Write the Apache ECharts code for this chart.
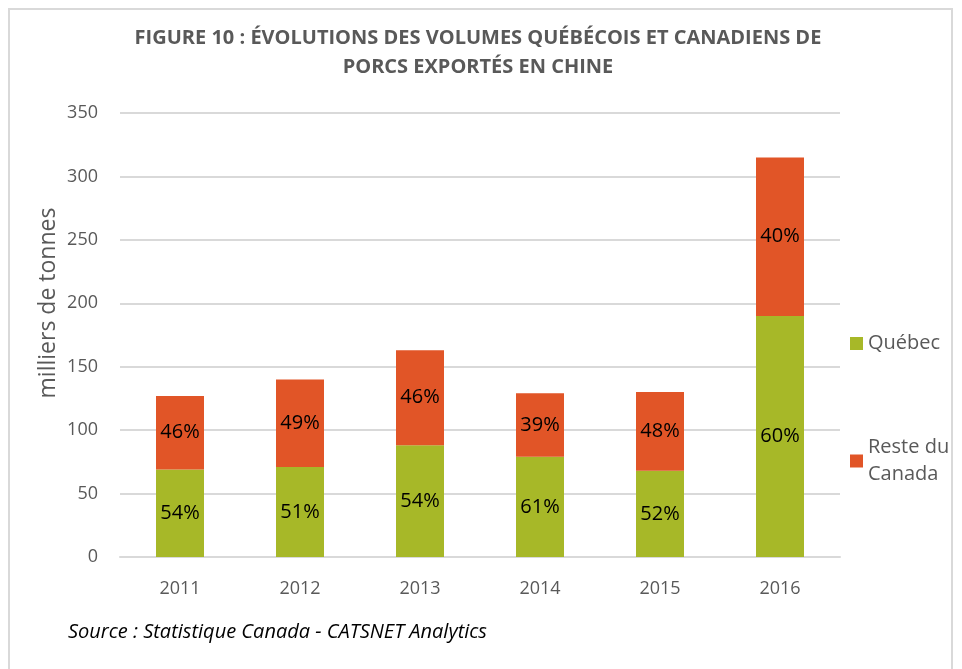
<!DOCTYPE html>
<html>
<head>
<meta charset="utf-8">
<script src="https://cdn.jsdelivr.net/npm/echarts@6/dist/echarts.min.js"></script>
<style>
  html, body { margin: 0; padding: 0; background: #fff; }
  #frame {
    position: absolute; left: 8px; top: 8px; width: 945px; height: 680px;
    border: 2px solid #d9d9d9; box-sizing: border-box;
  }
  #porcs-chart { width: 962px; height: 669px; position: absolute; left: 0; top: 0; }
</style>
</head>
<body>
<div id="frame"></div>
<div id="porcs-chart"></div>
<script>
// données (milliers de tonnes)
const annees = ['2011', '2012', '2013', '2014', '2015', '2016']
const quebec = [69, 71, 88, 79, 68, 190]
const resteCanada = [58, 69, 75, 50, 62, 125]
const pctQuebec = ['54%', '51%', '54%', '61%', '52%', '60%']
const pctReste = ['46%', '49%', '46%', '39%', '48%', '40%']
const yTicks = [0, 50, 100, 150, 200, 250, 300, 350]

const myChart = echarts.init(document.getElementById('porcs-chart'))
const font = '"Open Sans", "Noto Sans", sans-serif'

const option = {
  color: ['#A7B828', '#E15527'],
  title: {
    text: 'FIGURE 10 : ÉVOLUTIONS DES VOLUMES QUÉBÉCOIS ET CANADIENS DE\nPORCS EXPORTÉS EN CHINE',
    left: 473,
    top: 19,
    textAlign: 'center',
    textStyle: {
      fontFamily: font,
      fontWeight: 'bold',
      fontSize: 20,
      lineHeight: 29,
      color: '#595959'
    }
  },
  legend: {
    orient: 'vertical',
    left: 845,
    top: 325,
    itemWidth: 13,
    itemHeight: 13,
    itemGap: 77,
    icon: 'rect',
    data: ['Québec', 'Reste du Canada'],
    formatter: function (name) {
      return name === 'Reste du Canada' ? 'Reste du\nCanada' : name
    },
    textStyle: { fontFamily: font, fontSize: 20, color: '#595959', lineHeight: 27 }
  },
  grid: { left: 120, right: 122, top: 113, bottom: 112 },
  xAxis: {
    type: 'category',
    data: annees,
    axisLine: { lineStyle: { color: '#d9d9d9', width: 2 } },
    axisTick: { show: false },
    axisLabel: { fontFamily: font, fontSize: 18, color: '#595959', margin: 23 }
  },
  yAxis: {
    type: 'value',
    min: yTicks[0],
    max: yTicks[yTicks.length - 1],
    interval: 50,
    axisLabel: { fontFamily: font, fontSize: 18, color: '#595959', margin: 22 },
    splitLine: { lineStyle: { color: '#d9d9d9', width: 2 } }
  },
  series: [
    {
      name: 'Québec',
      type: 'bar',
      stack: 'total',
      barWidth: 48,
      data: quebec,
      label: {
        show: true,
        position: 'inside',
        fontFamily: font,
        fontSize: 20,
        color: '#000',
        formatter: p => pctQuebec[p.dataIndex]
      }
    },
    {
      name: 'Reste du Canada',
      type: 'bar',
      stack: 'total',
      barWidth: 48,
      data: resteCanada,
      label: {
        show: true,
        position: 'inside',
        fontFamily: font,
        fontSize: 20,
        color: '#000',
        formatter: p => pctReste[p.dataIndex]
      }
    }
  ],
  graphic: [
    {
      type: 'text',
      x: 48,
      y: 303,
      rotation: Math.PI / 2,
      style: {
        text: 'milliers de tonnes',
        font: '23px ' + font,
        fill: '#595959',
        align: 'center',
        verticalAlign: 'middle'
      }
    },
    {
      type: 'text',
      left: 68,
      top: 622,
      style: {
        text: 'Source : Statistique Canada - CATSNET Analytics',
        font: 'italic 20px ' + font,
        fill: '#000'
      }
    }
  ]
}
myChart.setOption(option)
</script>
</body>
</html>
